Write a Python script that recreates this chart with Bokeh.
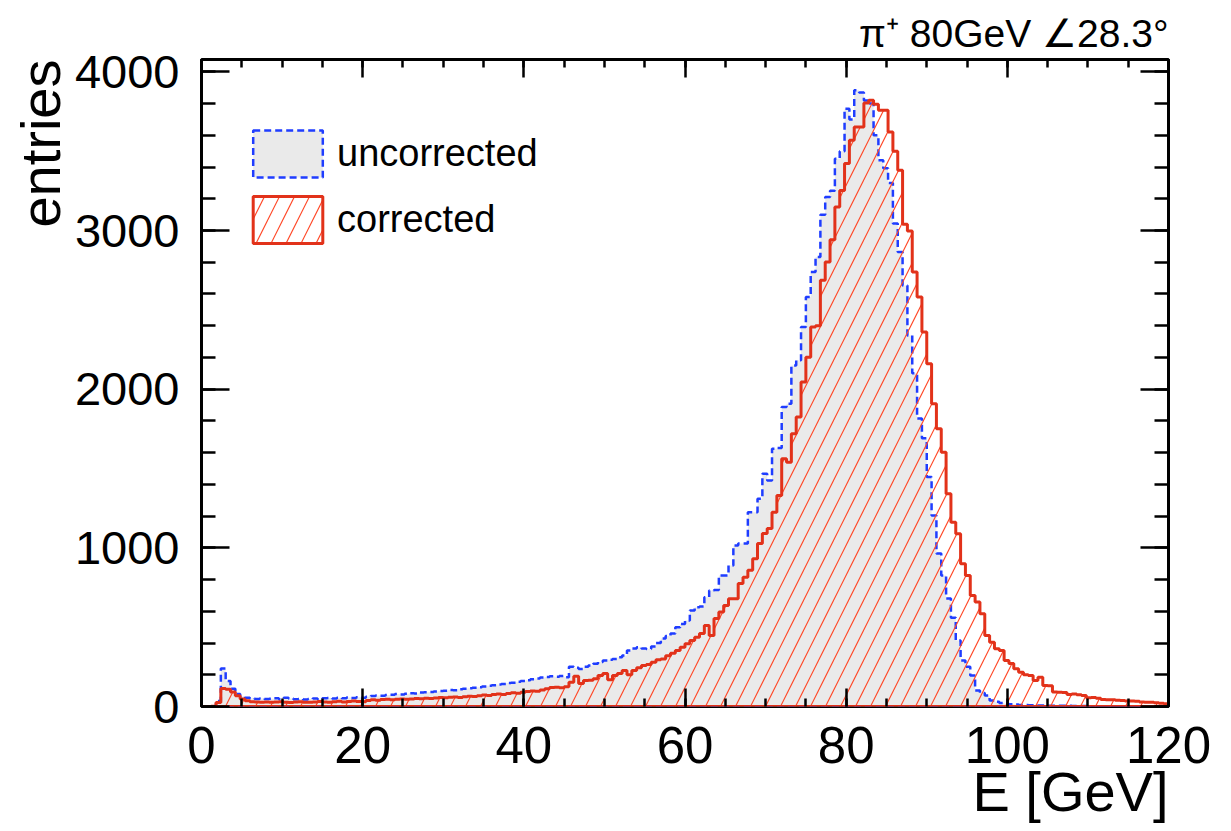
import numpy as np
from bokeh.plotting import figure
from bokeh.models import Range1d, LinearAxis, SingleIntervalTicker, Legend, LegendItem, Title
from bokeh.embed import file_html
from bokeh.resources import INLINE

# ---- data: 200 bins of 0.6 GeV from 0 to 120 GeV ----
e_min = 0.0
e_max = 120.0
n_bins = 200

uncorrected = [
    0, 0, 2, 35, 240, 160, 112, 78, 63, 55,
    52, 48, 50, 47, 49, 52, 46, 55, 50, 45,
    48, 44, 47, 50, 46, 52, 54, 50, 55, 52,
    56, 53, 58, 55, 62, 66, 70, 68, 72, 74,
    78, 76, 80, 84, 82, 88, 90, 92, 95, 98,
    100, 104, 102, 108, 112, 115, 118, 122, 126, 130,
    134, 138, 142, 148, 150, 156, 160, 166, 172, 176,
    182, 186, 190, 188, 192, 185, 250, 245, 237, 250,
    258, 269, 280, 290, 295, 300, 310, 321, 353, 365,
    374, 365, 362, 378, 400, 428, 445, 460, 500, 520,
    542, 605, 626, 630, 689, 731, 735, 826, 826, 889,
    1015, 1027, 1027, 1225, 1225, 1309, 1467, 1425, 1625, 1630,
    1887, 1908, 2150, 2182, 2392, 2581, 2738, 2833, 3100, 3211,
    3250, 3453, 3500, 3768, 3700, 3884, 3870, 3820, 3800, 3600,
    3443, 3392, 3300, 3045, 2865, 2654, 2339, 2100, 1816, 1690,
    1446, 1204, 965, 826, 681, 560, 416, 290, 250, 195,
    101, 85, 69, 38, 30, 22, 18, 14, 12, 10,
    9, 8, 7, 6, 6, 5, 5, 4, 4, 4,
    3, 3, 3, 3, 2, 2, 2, 2, 2, 2,
    2, 1, 1, 1, 1, 1, 1, 1, 1, 1,
]

corrected = [
    0, 0, 1, 25, 113, 108, 92, 68, 48, 36,
    30, 28, 27, 29, 26, 28, 30, 27, 25, 28,
    30, 27, 26, 29, 31, 28, 27, 30, 33, 29,
    31, 35, 32, 30, 38, 42, 40, 44, 45, 43,
    46, 48, 45, 47, 50, 49, 52, 50, 54, 56,
    55, 58, 60, 57, 62, 65, 63, 68, 72, 70,
    75, 78, 76, 82, 86, 84, 90, 94, 98, 96,
    104, 112, 120, 122, 118, 124, 153, 190, 145, 164,
    166, 175, 195, 208, 168, 195, 208, 227, 200, 227,
    245, 258, 265, 279, 295, 300, 320, 335, 353, 374,
    395, 416, 437, 460, 511, 448, 555, 595, 637, 679,
    679, 775, 815, 858, 931, 1027, 1090, 1122, 1225, 1330,
    1562, 1540, 1719, 1824, 2045, 2202, 2392, 2400, 2686, 2801,
    2942, 3148, 3253, 3422, 3569, 3653, 3653, 3804, 3821, 3796,
    3758, 3758, 3621, 3500, 3380, 3039, 2997, 2738, 2581, 2360,
    2161, 1909, 1751, 1603, 1341, 1162, 1089, 900, 826, 700,
    658, 584, 448, 405, 364, 353, 290, 271, 238, 216,
    200, 195, 164, 185, 132, 130, 92, 90, 88, 76,
    78, 74, 70, 55, 56, 52, 44, 42, 43, 40,
    38, 34, 35, 33, 28, 27, 26, 24, 20, 18,
]

series_labels = ["uncorrected", "corrected"]
title_text = "\u03c0\u207a 80GeV \u222028.3\u00b0"
x_label = "E [GeV]"
y_label = "entries"

# ---- styles ----
FONT = "Liberation Sans"
BLUE = "#1f3dff"
RED = "#e2321a"
HATCH = "#ff4a2a"
GRAY = "#eaeaea"

edges = np.linspace(e_min, e_max, n_bins + 1)


def step_outline(counts):
    xs = np.repeat(edges, 2)
    ys = np.concatenate([[0.0], np.repeat(np.asarray(counts, dtype=float), 2), [0.0]])
    return xs, ys


p = figure(width=1231, height=831, output_backend="svg", toolbar_location=None,
           x_range=Range1d(0, 120), y_range=Range1d(0, 4078),
           min_border_left=201, min_border_right=63, min_border_top=59, min_border_bottom=125)
p.background_fill_color = "white"
p.border_fill_color = "white"
p.outline_line_color = "black"
p.outline_line_width = 3
p.xgrid.visible = False
p.ygrid.visible = False

bx, by = step_outline(uncorrected)
rx, ry = step_outline(corrected)

rb = p.patch(bx, by, fill_color=GRAY, line_color=BLUE, line_width=2.5, line_dash="7 4")
rr = p.patch(rx, ry, fill_color=None, fill_alpha=0, line_color=RED, line_width=3,
             hatch_pattern="/", hatch_color=HATCH, hatch_scale=30, hatch_weight=1.2)

legend = Legend(items=[LegendItem(label=series_labels[0], renderers=[rb]),
                       LegendItem(label=series_labels[1], renderers=[rr])],
                location=(43, 457), orientation="vertical")
legend.glyph_width = 87
legend.glyph_height = 59
legend.label_height = 59
legend.spacing = 7
legend.padding = 0
legend.margin = 0
legend.label_standoff = 6
legend.border_line_color = None
legend.background_fill_alpha = 0
legend.label_text_font = FONT
legend.label_text_font_size = "38px"
legend.label_text_color = "black"
p.add_layout(legend, "center")


def style_axis(ax, major_in, minor_in, label_size):
    ax.axis_line_color = None
    ax.major_tick_in = major_in
    ax.major_tick_out = 0
    ax.minor_tick_in = minor_in
    ax.minor_tick_out = 0
    ax.major_tick_line_color = "black"
    ax.minor_tick_line_color = "black"
    ax.major_tick_line_width = 2.5
    ax.minor_tick_line_width = 2.5
    if label_size:
        ax.major_label_text_font = FONT
        ax.major_label_text_font_size = label_size
        ax.major_label_text_color = "black"
    else:
        ax.major_label_text_font_size = "0px"
        ax.major_label_text_alpha = 0
        ax.major_label_standoff = 0


p.xaxis.ticker = SingleIntervalTicker(interval=20, num_minor_ticks=4)
p.yaxis.ticker = SingleIntervalTicker(interval=1000, num_minor_ticks=5)
xa = p.xaxis[0]
ya = p.yaxis[0]
style_axis(xa, 18, 8, "51px")
style_axis(ya, 28, 14, "47px")
xa.major_label_standoff = 20
ya.major_label_standoff = 22

top_ax = LinearAxis(ticker=SingleIntervalTicker(interval=20, num_minor_ticks=4))
style_axis(top_ax, 18, 8, None)
p.add_layout(top_ax, "above")
right_ax = LinearAxis(ticker=SingleIntervalTicker(interval=1000, num_minor_ticks=5))
style_axis(right_ax, 28, 14, None)
p.add_layout(right_ax, "right")

# axis titles as side-panel titles (right / top aligned like ROOT)
p.add_layout(Title(text=x_label, align="right", text_font=FONT, text_font_size="56px",
                   text_font_style="normal", text_color="black", standoff=-16), "below")
p.add_layout(Title(text=y_label, align="right", text_font=FONT, text_font_size="56px",
                   text_font_style="normal", text_color="black", standoff=0), "left")

p.title.text = title_text
p.title.align = "right"
p.title.text_font = FONT
p.title.text_font_size = "39px"
p.title.text_font_style = "normal"
p.title.text_color = "black"
p.title.standoff = 10

open("out.html", "w").write(file_html(p, INLINE))
